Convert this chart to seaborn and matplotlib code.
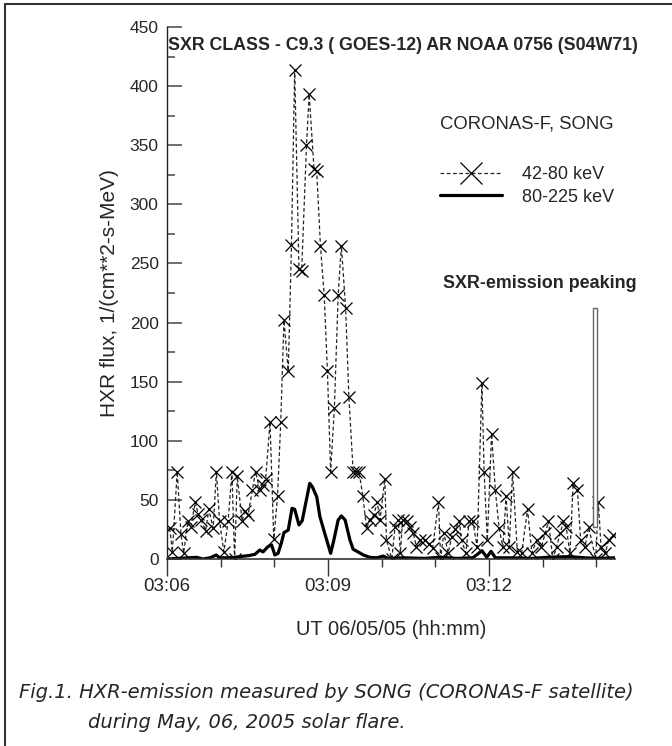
import numpy as np
import pandas as pd
import matplotlib
matplotlib.use("Agg")
import matplotlib.pyplot as plt
from matplotlib.lines import Line2D
from matplotlib.patches import Rectangle
from matplotlib.ticker import MultipleLocator, FixedLocator
import seaborn as sns

sns.set_style("ticks")
plt.rcParams['font.family'] = ['Liberation Sans', 'DejaVu Sans']

# 42-80 keV channel, minutes after 03:06 UT and flux
low_t = [0.05, 0.10, 0.19, 0.26, 0.31, 0.39, 0.44, 0.53, 0.58, 0.64,
         0.72, 0.78, 0.86, 0.92, 0.98, 1.06, 1.14, 1.21, 1.26, 1.31,
         1.40, 1.45, 1.51, 1.59, 1.65, 1.73, 1.78, 1.84, 1.92, 1.99,
         2.06, 2.12, 2.18, 2.26, 2.32, 2.38, 2.46, 2.51, 2.60, 2.65,
         2.74, 2.79, 2.86, 2.93, 2.99, 3.05, 3.12, 3.19, 3.25, 3.33,
         3.39, 3.47, 3.53, 3.58, 3.65, 3.72, 3.78, 3.85, 3.92, 3.97,
         4.06, 4.09, 4.19, 4.25, 4.31, 4.35, 4.39, 4.47, 4.53, 4.59,
         4.65, 4.71, 4.81, 4.89, 4.95, 5.06, 5.10, 5.16, 5.24, 5.31,
         5.37, 5.45, 5.49, 5.57, 5.63, 5.70, 5.78, 5.87, 5.91, 5.97,
         6.05, 6.12, 6.19, 6.26, 6.32, 6.38, 6.44, 6.53, 6.61, 6.72,
         6.80, 6.89, 6.98, 7.05, 7.11, 7.19, 7.26, 7.33, 7.39, 7.44,
         7.51, 7.57, 7.65, 7.71, 7.79, 7.86, 7.99, 8.04, 8.09, 8.17,
         8.23, 8.32]
low_v = [26, 6, 74, 21, 5, 32, 27, 48, 38, 33,
         24, 42, 26, 74, 32, 6, 32, 74, 0, 70,
         32, 41, 37, 58, 74, 58, 63, 68, 116, 17,
         53, 116, 202, 159, 266, 414, 245, 244, 350, 393,
         330, 328, 265, 223, 159, 74, 128, 223, 265, 212,
         137, 74, 74, 74, 53, 26, 33, 37, 48, 33,
         68, 16, 0, 27, 33, 5, 33, 32, 27, 22,
         10, 16, 16, 13, 9, 48, 1, 22, 5, 19,
         25, 32, 16, 5, 32, 32, 10, 149, 74, 16,
         106, 58, 26, 10, 53, 10, 74, 6, 5, 42,
         5, 16, 10, 22, 32, 0, 10, 22, 32, 27,
         5, 64, 58, 16, 10, 27, 0, 48, 10, 5,
         16, 20]

# 80-225 keV channel
high_t = [0.00, 0.24, 0.55, 0.67, 0.80, 0.92, 0.98, 1.17, 1.36, 1.54,
          1.64, 1.73, 1.79, 1.88, 1.95, 2.01, 2.07, 2.13, 2.18, 2.26,
          2.33, 2.38, 2.46, 2.52, 2.66, 2.71, 2.79, 2.85, 2.94, 3.05,
          3.11, 3.19, 3.25, 3.32, 3.41, 3.47, 3.56, 3.66, 3.78, 3.91,
          4.03, 4.12, 4.40, 4.80, 5.10, 5.40, 5.70, 5.87, 5.96, 6.04,
          6.12, 6.40, 6.80, 7.10, 7.50, 7.80, 8.00, 8.35]
high_v = [0, 0.6, 1.4, 0, 1, 3.4, 1, 1, 2, 3,
          4, 7.6, 6, 10.4, 11.8, 3.4, 4.8, 13.3, 22.3, 24.5,
          42.9, 42, 28.8, 32.4, 64, 61, 52.7, 35.8, 21.7, 4.8,
          16, 33, 36.4, 33, 16, 8.2, 6, 3.4, 1.4, 1,
          2.5, 0.5, 1, 0.5, 1.5, 0.5, 1, 7, 1.5, 6.5,
          1, 1, 0.5, 1.5, 2, 1, 0.5, 1]

xtick_pos = [0, 3, 6]
xtick_labels = ['03:06', '03:09', '03:12']

low_df = pd.DataFrame({'t': low_t, 'v': low_v})
high_df = pd.DataFrame({'t': high_t, 'v': high_v})

fig = plt.figure(figsize=(6.72, 7.46), dpi=100)
ax = fig.add_axes([167/672, 1-559/746, 448/672, 532/746])

sns.lineplot(data=low_df, x='t', y='v', ax=ax, estimator=None, sort=False,
             color='#222222', lw=0.9, linestyle=(0, (3, 2)),
             marker='x', markersize=8, markeredgewidth=0.9,
             markeredgecolor='black', label='42-80 keV')
sns.lineplot(data=high_df, x='t', y='v', ax=ax, estimator=None, sort=False,
             color='black', lw=2.3, label='80-225 keV')

ax.set_xlim(0, 8.35)
ax.set_ylim(0, 450)
for s in ['top', 'right']:
    ax.spines[s].set_visible(False)
ax.spines['left'].set_color('#222222')
ax.spines['bottom'].set_color('#333333')
ax.spines['left'].set_linewidth(1.0)
ax.spines['bottom'].set_linewidth(1.2)

ax.xaxis.set_major_locator(FixedLocator(xtick_pos))
ax.set_xticklabels(xtick_labels)
ax.xaxis.set_minor_locator(MultipleLocator(1))
ax.yaxis.set_major_locator(MultipleLocator(50))
ax.yaxis.set_minor_locator(MultipleLocator(25))
ax.tick_params(axis='x', which='major', direction='out', length=12, width=1,
               pad=1.5, labelsize=13.5, color='#333333')
ax.tick_params(axis='x', which='minor', direction='out', length=6, width=1,
               color='#333333')
ax.tick_params(axis='y', which='major', direction='in', length=11, width=1.2,
               pad=6, labelsize=12.5, color='#555555')
ax.tick_params(axis='y', which='minor', direction='in', length=6, width=1.2,
               color='#555555')

ax.set_xlabel('UT 06/05/05 (hh:mm)', fontsize=14.5)
ax.xaxis.set_label_coords(0.5, -0.114)
ax.set_ylabel('HXR flux, 1/(cm**2-s-MeV)', fontsize=15)
ax.yaxis.set_label_coords(-0.108, 0.5)

leg = ax.legend(title='CORONAS-F, SONG\n', loc='upper center',
                bbox_to_anchor=(527/672, 1-106/746), bbox_transform=fig.transFigure,
                frameon=False, fontsize=13, title_fontsize=13.3,
                handlelength=3.4, handletextpad=1.1, markerscale=2.0,
                labelspacing=0.3, borderpad=0)
leg.get_title().set_linespacing(1.9)

# SXR peak marker
ax.add_patch(Rectangle((7.935, 27), 0.075, 185, facecolor='white',
                       edgecolor='#666666', lw=1, zorder=5, clip_on=False))
fig.text(443/672, 1-284/746, 'SXR-emission peaking', fontsize=12.9,
         fontweight='bold', ha='left', va='center')

fig.text(168/672, 1-46/746, 'SXR CLASS - C9.3 ( GOES-12) AR NOAA 0756 (S04W71)',
         fontsize=12.8, fontweight='bold', ha='left', va='center')

fig.text(19/672, 1-692/746,
         'Fig.1. HXR-emission measured by SONG (CORONAS-F satellite)',
         fontsize=14, style='italic', family='DejaVu Sans', ha='left', va='center')
fig.text(88/672, 1-722/746, 'during May, 06, 2005 solar flare.',
         fontsize=14, style='italic', family='DejaVu Sans', ha='left', va='center')

# page frame
fig.add_artist(Line2D([5/672, 5/672], [0, 1-4/746], transform=fig.transFigure,
                      color='#333333', lw=1.5))
fig.add_artist(Line2D([5/672, 1], [1-4/746, 1-4/746], transform=fig.transFigure,
                      color='#333333', lw=1.5))

fig.savefig('out.png', dpi=100)
